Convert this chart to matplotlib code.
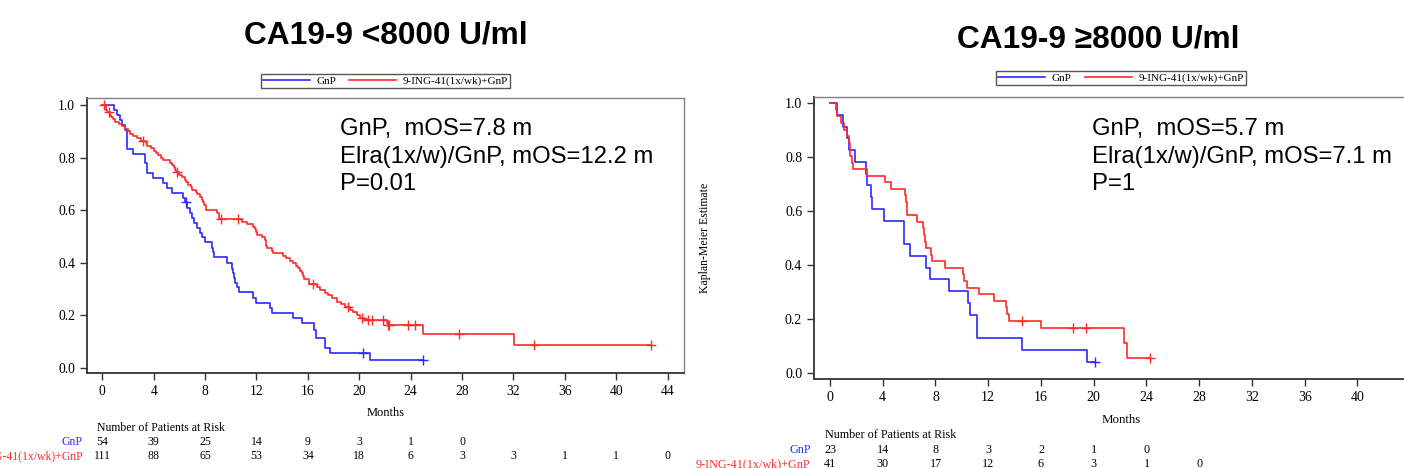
import numpy as np
import matplotlib
matplotlib.use('Agg')
import matplotlib.pyplot as plt
from matplotlib.transforms import blended_transform_factory
from matplotlib.lines import Line2D

# ---------------- Data ----------------
# Left panel: CA19-9 < 8000 U/ml  (step times, survival after step, censor times)
L_gnp_t = [0, 0.91, 1.15, 1.35, 1.55, 1.77, 1.9, 1.95, 2.41, 3.3, 3.45, 3.92, 4.75, 5.0, 5.4,
           6.3, 6.4, 6.57, 6.82, 6.95, 7.16, 7.34, 7.6, 7.73, 7.99, 8.55, 8.64, 8.69, 9.68,
           10.07, 10.15, 10.25, 10.35, 10.45, 10.64, 11.75, 12.0, 13.05, 13.18, 14.86, 15.52,
           16.5, 16.6, 17.33, 17.7, 20.83]
L_gnp_s = [1.0, 0.981, 0.963, 0.944, 0.926, 0.907, 0.87, 0.833, 0.815, 0.778, 0.741, 0.722,
           0.704, 0.685, 0.667, 0.648, 0.630, 0.610, 0.590, 0.570, 0.551, 0.532, 0.513, 0.497,
           0.478, 0.458, 0.44, 0.421, 0.399, 0.378, 0.36, 0.342, 0.325, 0.308, 0.288, 0.268,
           0.249, 0.23, 0.211, 0.192, 0.173, 0.144, 0.115, 0.077, 0.057, 0.029]
L_gnp_cens = [6.49, 20.3, 24.98]

L_ing_t = [0, 0.3, 0.4, 0.6, 0.7, 0.8, 1.0, 1.3, 1.5, 1.8, 2.0, 2.15, 2.4, 2.7, 3.0, 3.4, 3.5,
           3.8, 4.0, 4.2, 4.3, 4.6, 4.7, 5.3, 5.45, 5.55, 5.65, 5.75, 6.0, 6.2, 6.4, 6.55, 6.65,
           6.9, 7.0, 7.3, 7.4, 7.6, 7.75, 7.85, 7.95, 8.05, 8.1, 8.9, 9.05, 10.9, 11.24, 11.75,
           11.85, 11.95, 12.05, 12.4, 12.66, 12.72, 12.76, 12.79, 13.18, 13.3, 14.1, 14.3, 14.6,
           14.86, 15.1, 15.25, 15.4, 15.52, 15.6, 15.7, 16.1, 16.7, 16.94, 17.3, 17.59, 17.9,
           18.24, 18.6, 18.88, 19.3, 19.54, 19.8, 20.05, 20.4, 22.15, 22.25, 24.98, 32.07]
L_ing_s = [1.0, 0.982, 0.973, 0.964, 0.955, 0.946, 0.937, 0.928, 0.919, 0.91, 0.9, 0.891, 0.882,
           0.873, 0.864, 0.855, 0.845, 0.836, 0.827, 0.818, 0.809, 0.8, 0.79, 0.781, 0.772, 0.763,
           0.754, 0.745, 0.736, 0.727, 0.717, 0.708, 0.698, 0.689, 0.679, 0.67, 0.66, 0.65, 0.64,
           0.63, 0.62, 0.61, 0.601, 0.59, 0.567, 0.557, 0.547, 0.537, 0.527, 0.517, 0.507, 0.497,
           0.487, 0.476, 0.466, 0.456, 0.446, 0.437, 0.427, 0.417, 0.408, 0.398, 0.389, 0.379,
           0.37, 0.36, 0.35, 0.34, 0.321, 0.31, 0.298, 0.287, 0.277, 0.265, 0.253, 0.243, 0.233,
           0.222, 0.212, 0.202, 0.192, 0.181, 0.172, 0.163, 0.129, 0.087]
L_ing_cens = [0.16, 0.5, 3.14, 5.79, 9.21, 10.59, 16.42, 19.14, 20.18, 20.7, 21.0, 21.87, 22.26,
              22.35, 23.8, 24.3, 27.78, 33.6, 42.68]

# Right panel: CA19-9 >= 8000 U/ml
R_gnp_t = [0, 0.56, 1.01, 1.31, 1.45, 1.87, 2.70, 2.83, 3.13, 3.18, 4.09, 5.61, 6.07, 7.25,
           7.58, 9.02, 10.46, 10.61, 11.16, 14.53, 19.46]
R_gnp_s = [1.0, 0.957, 0.913, 0.870, 0.826, 0.783, 0.739, 0.696, 0.652, 0.609, 0.565, 0.478,
           0.435, 0.391, 0.348, 0.304, 0.261, 0.217, 0.130, 0.087, 0.043]
R_gnp_cens = [20.09]

R_ing_t = [0, 0.43, 0.56, 0.86, 1.06, 1.31, 1.44, 1.5, 1.52, 1.7, 1.77, 2.83, 4.14, 4.6, 5.66,
           5.74, 5.81, 5.86, 6.57, 7.08, 7.12, 7.2, 7.28, 7.63, 7.75, 8.69, 10.12, 10.16, 10.41,
           11.3, 12.43, 13.34, 13.45, 13.6, 15.97, 22.29, 22.54]
R_ing_s = [1.0, 0.976, 0.951, 0.927, 0.902, 0.878, 0.854, 0.829, 0.805, 0.78, 0.756, 0.732,
           0.707, 0.683, 0.659, 0.634, 0.61, 0.585, 0.561, 0.537, 0.512, 0.488, 0.463, 0.439,
           0.415, 0.390, 0.366, 0.341, 0.317, 0.293, 0.268, 0.244, 0.22, 0.195, 0.167, 0.111,
           0.056]
R_ing_cens = [14.53, 18.4, 19.41, 24.26]

# Numbers at risk
risk_times = [0, 4, 8, 12, 16, 20, 24, 28, 32, 36, 40, 44]
L_gnp_risk = [54, 39, 25, 14, 9, 3, 1, 0]
L_ing_risk = [111, 88, 65, 53, 34, 18, 6, 3, 3, 1, 1, 0]
R_gnp_risk = [23, 14, 8, 3, 2, 1, 0]
R_ing_risk = [41, 30, 17, 12, 6, 3, 1, 0]

titles = ["CA19-9 <8000 U/ml", "CA19-9 \u22658000 U/ml"]
notes = [["GnP,  mOS=7.8 m", "Elra(1x/w)/GnP, mOS=12.2 m", "P=0.01"],
         ["GnP,  mOS=5.7 m", "Elra(1x/w)/GnP, mOS=7.1 m", "P=1"]]
arm_labels = ["GnP", "9-ING-41(1x/wk)+GnP"]
xticks_left = [0, 4, 8, 12, 16, 20, 24, 28, 32, 36, 40, 44]
xticks_right = [0, 4, 8, 12, 16, 20, 24, 28, 32, 36, 40]
yticks = [0.0, 0.2, 0.4, 0.6, 0.8, 1.0]

# ---------------- Style ----------------
BLUE = '#2a2aff'
RED = '#ff2a2a'
SERIF = ['Liberation Serif', 'DejaVu Serif']
SANS = ['Liberation Sans', 'DejaVu Sans']

W, H = 1404, 468
fig = plt.figure(figsize=(W / 100, H / 100), dpi=100)


def fx(px):
    return px / W


def fy(py):
    return 1 - py / H


def panel(rect, xlim, ylim, curves, xticks, tick_fs):
    ax = fig.add_axes(rect)
    for t, s, cens, color in curves:
        t = np.asarray(t, float)
        s = np.asarray(s, float)
        tt = np.append(t, max(cens))
        ss = np.append(s, s[-1])
        ax.step(tt, ss, where='post', color=color, lw=1.2)
        idx = np.searchsorted(t, cens, side='right') - 1
        ax.plot(cens, s[idx], ls='none', marker='+', ms=7, mew=1.0, color=color)
    ax.set_xlim(*xlim)
    ax.set_ylim(*ylim)
    ax.set_xticks(xticks)
    ax.set_yticks(yticks)
    ax.set_yticklabels([f"{v:.1f}" for v in yticks])
    ax.tick_params(direction='out', length=5, width=1, color='#333333', labelsize=tick_fs)
    for lab in ax.get_xticklabels() + ax.get_yticklabels():
        lab.set_fontfamily(SERIF)
    for side in ['left', 'bottom']:
        ax.spines[side].set_color('#333333')
        ax.spines[side].set_linewidth(1.3)
    for side in ['top', 'right']:
        ax.spines[side].set_color('#808080')
        ax.spines[side].set_linewidth(1.0)
    return ax


# Left panel
axL = panel([fx(87), fy(373.3), fx(684) - fx(87), fy(98) - fy(373.3)], (-1.19, 45.27), (-0.02, 1.027),
            [(L_gnp_t, L_gnp_s, L_gnp_cens, BLUE), (L_ing_t, L_ing_s, L_ing_cens, RED)],
            xticks_left, 9.8)
# Right panel (extends past the right edge of the figure)
axR = panel([fx(814), fy(379.3), fx(1427) - fx(814), fy(96.7) - fy(379.3)], (-1.21, 45.27), (-0.022, 1.024),
            [(R_gnp_t, R_gnp_s, R_gnp_cens, BLUE), (R_ing_t, R_ing_s, R_ing_cens, RED)],
            xticks_right, 10)

# Titles
fig.text(fx(385.5), fy(35), titles[0], ha='center', va='center', fontsize=22.8, fontweight='bold',
         family=SANS)
fig.text(fx(1098.5), fy(40), titles[1], ha='center', va='center', fontsize=22.8, fontweight='bold',
         family=SANS)

# Annotations
for x0, lines in [(340.5, notes[0]), (1091.5, notes[1])]:
    for yy, line in zip([129, 157, 184], lines):
        fig.text(fx(x0), fy(yy), line, ha='left', va='center', fontsize=17.2, family=SANS)

# Legends
handles = [Line2D([], [], color=BLUE, lw=1.2), Line2D([], [], color=RED, lw=1.2)]
for cx, cy in [(385.5, 81), (1121, 78)]:
    leg = fig.legend(handles, arm_labels, loc='center', bbox_to_anchor=(fx(cx), fy(cy)), ncol=2,
                     frameon=True, fancybox=False, edgecolor='#555555', framealpha=1,
                     prop={'family': SERIF, 'size': 8}, handlelength=4.2, handletextpad=0.6,
                     columnspacing=1.2, borderpad=0.2, borderaxespad=0)
    leg.get_frame().set_linewidth(1.0)

# Axis labels
fig.text(fx(386), fy(413), "Months", ha='center', va='center', fontsize=9, family=SERIF)
fig.text(fx(1121), fy(420), "Months", ha='center', va='center', fontsize=9.3, family=SERIF)
fig.text(fx(705), fy(238), "Kaplan-Meier Estimate", ha='center', va='center', rotation=90,
         fontsize=8.5, family=SERIF)

# Risk tables
for ax, head_xy, rows_y, lab_x, gnp_r, ing_r, fs in [
        (axL, (97, 428), (441.7, 456), 83, L_gnp_risk, L_ing_risk, 8.5),
        (axR, (825, 435), (450, 464), 810.7, R_gnp_risk, R_ing_risk, 8.7)]:
    fig.text(fx(head_xy[0]), fy(head_xy[1]), "Number of Patients at Risk", ha='left', va='center',
             fontsize=fs, family=SERIF)
    tr = blended_transform_factory(ax.transData, fig.transFigure)
    for yy, vals, color, lab in [(rows_y[0], gnp_r, BLUE, arm_labels[0]),
                                 (rows_y[1], ing_r, RED, arm_labels[1])]:
        fig.text(fx(lab_x), fy(yy), lab, ha='right', va='center', fontsize=fs, family=SERIF,
                 color=color)
        for tx, v in zip(risk_times, vals):
            ax.text(tx, fy(yy), str(v), transform=tr, ha='center', va='center', fontsize=fs,
                    family=SERIF, clip_on=False)

fig.savefig('out.png', dpi=100)
